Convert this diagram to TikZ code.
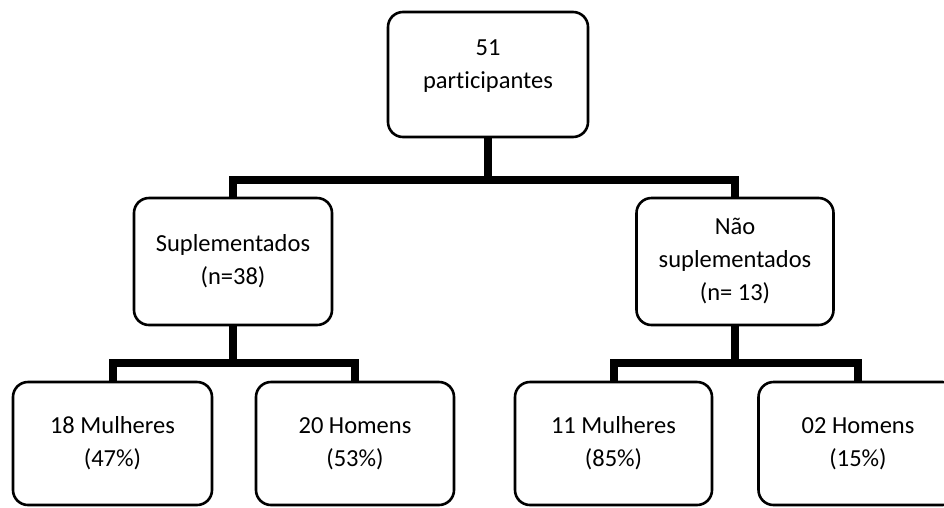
\documentclass[tikz,border=0pt]{standalone}
\usepackage{fontspec}
\setmainfont{Carlito}[RawFeature=-liga]
\begin{document}
\begin{tikzpicture}[x=1pt,y=-1pt,
  txt/.style={align=center, font=\fontsize{24.5}{33}\selectfont},
  box/.style={draw=black, line width=2.6pt, fill=white, rounded corners=15pt,
    minimum width=#1, inner sep=0pt, txt},
  box/.default=199pt,
  conn/.style={line width=8pt, line join=miter, line cap=butt}]
\clip (0,0) rectangle (944,507);
\useasboundingbox (0,0) rectangle (944,507);
\fill[white] (0,0) rectangle (944,507);
% junctions
\coordinate (j1) at (488,180);
\coordinate (j2) at (233,363);
\coordinate (j3) at (735,363);
% boxes
\node[box=200pt, minimum height=125pt] (top) at (488,74.5) {};
\node[txt] (toptext) at (488,66) {51\\participantes};
\node[box=198pt, minimum height=127pt] (sup) at (233,261.5) {Suplementados\\(n=38)};
\node[box=197pt, minimum height=127pt] (nao) at (735,261.5) {Não\\suplementados\\(n= 13)};
\node[box=199pt, minimum height=123pt] (m1) at (112.5,443.5) {18 Mulheres\\(47\%)};
\node[box=198pt, minimum height=123pt] (h1) at (355,443.5) {20 Homens\\(53\%)};
\node[box=197pt, minimum height=123pt] (m2) at (613.5,443.5) {11 Mulheres\\(85\%)};
\node[box=199pt, minimum height=123pt] (h2) at (858,443.5) {02 Homens\\(15\%)};
% connectors
\draw[conn] (top.south) -- (j1);
\draw[conn] (sup.north) |- (j1) -| (nao.north);
\draw[conn] (sup.south) -- (j2);
\draw[conn] (m1.north) |- (j2) -| (h1.north);
\draw[conn] (nao.south) -- (j3);
\draw[conn] (m2.north) |- (j3) -| (h2.north);
\end{tikzpicture}
\end{document}
